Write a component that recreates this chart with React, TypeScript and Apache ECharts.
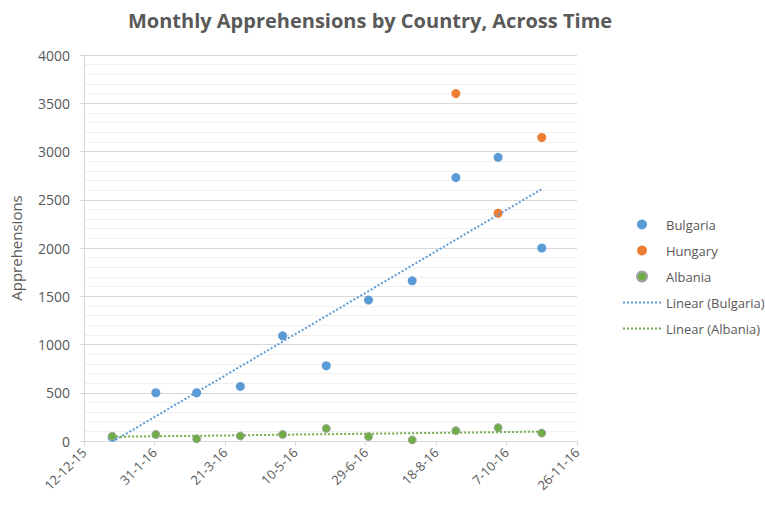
import React, { useEffect, useRef } from "react";
import * as echarts from "echarts";

const ORIGIN = Date.UTC(2015, 11, 12);
const DAY = 86400000;

const monthDates = [
  "2016-01-01", "2016-02-01", "2016-03-01", "2016-04-01", "2016-05-01", "2016-06-01",
  "2016-07-01", "2016-08-01", "2016-09-01", "2016-10-01", "2016-11-01",
];
const bulgaria = [40, 500, 500, 565, 1090, 780, 1460, 1660, 2730, 2940, 2000];
const hungary: (number | null)[] = [null, null, null, null, null, null, null, null, 3600, 2360, 3145];
const albania = [50, 68, 22, 52, 68, 130, 45, 11, 107, 138, 82];

const xMinDays = 0;
const xMaxDays = 350;
const xIntervalDays = 50;
const yTicks = { min: 0, max: 4000, interval: 500 };

const FONT = "'Open Sans', 'Noto Sans', sans-serif";
const TEXT = "#595959";

function toDays(s: string) {
  const [y, m, d] = s.split("-").map(Number);
  return Math.round((Date.UTC(y, m - 1, d) - ORIGIN) / DAY);
}

function fmt(days: number) {
  const dt = new Date(ORIGIN + days * DAY);
  return `${dt.getUTCDate()}-${dt.getUTCMonth() + 1}-${String(dt.getUTCFullYear()).slice(2)}`;
}

function pairs(vals: (number | null)[]) {
  return monthDates
    .map((d, i) => [toDays(d), vals[i]])
    .filter((p) => p[1] !== null) as number[][];
}

function trend(pts: number[][]) {
  const n = pts.length;
  const mx = pts.reduce((a, p) => a + p[0], 0) / n;
  const my = pts.reduce((a, p) => a + p[1], 0) / n;
  let sxy = 0, sxx = 0;
  pts.forEach((p) => {
    sxy += (p[0] - mx) * (p[1] - my);
    sxx += (p[0] - mx) * (p[0] - mx);
  });
  const b = sxy / sxx;
  const a = my - b * mx;
  const x0 = pts[0][0];
  const x1 = pts[n - 1][0];
  return [[x0, a + b * x0], [x1, a + b * x1]];
}

export default function App() {
  const ref = useRef<HTMLDivElement>(null);
  useEffect(() => {
    if (!ref.current) return;
    const chart = echarts.init(ref.current, undefined, { renderer: "svg" });
    const bPts = pairs(bulgaria);
    const hPts = pairs(hungary);
    const aPts = pairs(albania);
    chart.setOption({
      animation: false,
      backgroundColor: "#ffffff",
      title: {
        text: "Monthly Apprehensions by Country, Across Time",
        left: 365,
        textAlign: "center",
        top: 5,
        textStyle: { fontFamily: FONT, fontSize: 20, fontWeight: "bold", color: TEXT },
      },
      legend: {
        orient: "vertical",
        left: 617,
        top: 213,
        itemWidth: 38,
        itemHeight: 10,
        itemGap: 13,
        textStyle: { fontFamily: FONT, fontSize: 13, color: TEXT },
        data: [
          { name: "Bulgaria", icon: "circle" },
          { name: "Hungary", icon: "circle" },
          { name: "Albania", icon: "circle" },
          { name: "Linear (Bulgaria)", itemStyle: { opacity: 0 } },
          { name: "Linear (Albania)", itemStyle: { opacity: 0 } },
        ],
      },
      grid: { left: 83, right: 188, top: 55, bottom: 65, containLabel: false },
      xAxis: {
        type: "value",
        min: xMinDays,
        max: xMaxDays,
        interval: xIntervalDays,
        splitLine: { show: false },
        axisLine: { show: true, lineStyle: { color: "#D9D9D9", width: 1 } },
        axisTick: { show: true, length: 5, lineStyle: { color: "#D9D9D9" } },
        axisLabel: {
          rotate: 45,
          margin: 9,
          formatter: (v: number) => fmt(v),
          fontFamily: FONT,
          fontSize: 13,
          color: TEXT,
        },
      },
      yAxis: {
        type: "value",
        min: yTicks.min,
        max: yTicks.max,
        interval: yTicks.interval,
        name: "Apprehensions",
        nameLocation: "middle",
        nameGap: 61,
        nameTextStyle: { fontFamily: FONT, fontSize: 15, color: TEXT },
        axisLine: { show: true, lineStyle: { color: "#D9D9D9" } },
        axisTick: { show: true, length: 4, lineStyle: { color: "#D9D9D9" } },
        axisLabel: {
          margin: 14,
          formatter: (v: number) => String(v),
          fontFamily: FONT,
          fontSize: 14,
          color: TEXT,
        },
        splitLine: { show: true, lineStyle: { color: "#D9D9D9", width: 1 } },
        minorTick: { show: false, splitNumber: 5 },
        minorSplitLine: { show: true, lineStyle: { color: "#F0F0F0", width: 1 } },
      },
      series: [
        {
          name: "Bulgaria",
          type: "scatter",
          data: bPts,
          symbolSize: 9,
          itemStyle: { color: "#5B9BD5", opacity: 1 },
        },
        {
          name: "Hungary",
          type: "scatter",
          data: hPts,
          symbolSize: 9,
          itemStyle: { color: "#ED7D31", opacity: 1 },
        },
        {
          name: "Albania",
          type: "scatter",
          data: aPts,
          symbolSize: 8,
          itemStyle: { color: "#70AD47", borderColor: "#A5A5A5", borderWidth: 1, opacity: 1 },
        },
        {
          name: "Linear (Bulgaria)",
          type: "line",
          data: trend(bPts),
          symbol: "none",
          clip: true,
          lineStyle: { color: "#5B9BD5", width: 2, type: [2, 2] },
          itemStyle: { color: "#5B9BD5", opacity: 0 },
        },
        {
          name: "Linear (Albania)",
          type: "line",
          data: trend(aPts),
          symbol: "none",
          clip: true,
          lineStyle: { color: "#70AD47", width: 2, type: [2, 2] },
          itemStyle: { color: "#70AD47", opacity: 0 },
        },
      ],
    });
    return () => chart.dispose();
  }, []);
  return (
    <div
      ref={ref}
      style={{ position: "fixed", left: 0, top: 0, width: 765, height: 506, background: "#fff" }}
    />
  );
}
